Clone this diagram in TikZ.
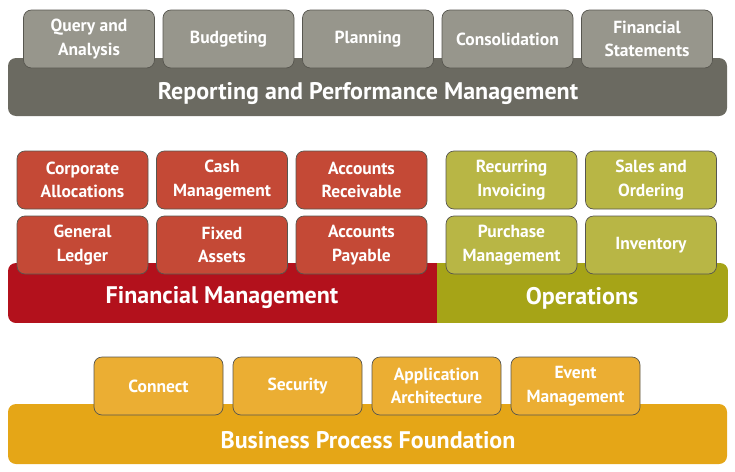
\documentclass[tikz,border=0pt]{standalone}
\usepackage{fontspec}
\setmainfont{PT Sans}
\usetikzlibrary{positioning}
\definecolor{repbar}{HTML}{6B6A61}
\definecolor{repbox}{HTML}{97968C}
\definecolor{finbar}{HTML}{B3111C}
\definecolor{finbox}{HTML}{C44936}
\definecolor{opsbar}{HTML}{A6A417}
\definecolor{opsbox}{HTML}{B8B645}
\definecolor{bpfbar}{HTML}{E5A617}
\definecolor{bpfbox}{HTML}{EBAE33}
\definecolor{edge}{HTML}{57564F}

\begin{document}
\begin{tikzpicture}[x=1pt, y=-1pt,
  node distance=8.5pt and 8.5pt,
  box/.style={draw=edge, line width=0.7pt, rounded corners=8pt, fill=#1,
              minimum width=131pt, minimum height=58pt, inner sep=0pt,
              outer sep=0pt, align=center, text=white,
              font=\fontsize{17.5}{23.5}\selectfont\bfseries},
  box/.default=repbox,
  bartext/.style={text=white, font=\fontsize{24}{28}\selectfont\bfseries}]
\useasboundingbox (0,0) rectangle (735,471);

% layer bars
\fill[repbar, rounded corners=8pt] (8,58) rectangle (727,116);
\begin{scope}
  \clip[rounded corners=8pt] (8,263) rectangle (728,323);
  \fill[finbar] (8,263) rectangle (437,323);
  \fill[opsbar] (437,263) rectangle (728,323);
\end{scope}
\fill[bpfbar, rounded corners=8pt] (8,404) rectangle (727,464);

\node[bartext] (rep) at (368,94) {Reporting and Performance Management};
\node[bartext] (fin) at (222,298) {Financial Management};
\node[bartext] (ops) at (582,298) {Operations};
\node[bartext] (bpf) at (368,440) {Business Process Foundation};

% reporting
\node[box] (qa) at (89,39) {Query and\\Analysis};
\node[box, right=of qa] (bud) {Budgeting};
\node[box, right=of bud] (plan) {Planning};
\node[box, right=of plan] (cons) {Consolidation};
\node[box, right=of cons] (fs) {Financial\\Statements};

% financial management
\node[box=finbox] (ca) at (82.5,180) {Corporate\\Allocations};
\node[box=finbox, right=of ca] (cm) {Cash\\Management};
\node[box=finbox, right=of cm] (ar) {Accounts\\Receivable};
\node[box=finbox, below=7pt of ca] (gl) {General\\Ledger};
\node[box=finbox, right=of gl] (fa) {Fixed\\Assets};
\node[box=finbox, right=of fa] (ap) {Accounts\\Payable};

% operations
\node[box=opsbox, right=19pt of ar] (ri) {Recurring\\Invoicing};
\node[box=opsbox, right=of ri] (so) {Sales and\\Ordering};
\node[box=opsbox, below=7pt of ri] (pm) {Purchase\\Management};
\node[box=opsbox, right=of pm] (inv) {Inventory};

% foundation
\node[box=bpfbox, minimum width=129pt] (conn) at (158.5,386) {Connect};
\node[box=bpfbox, minimum width=129pt, right=10pt of conn] (sec) {Security};
\node[box=bpfbox, minimum width=129pt, right=10pt of sec] (aa) {Application\\Architecture};
\node[box=bpfbox, minimum width=129pt, right=10pt of aa] (em) {Event\\Management};
\end{tikzpicture}
\end{document}
